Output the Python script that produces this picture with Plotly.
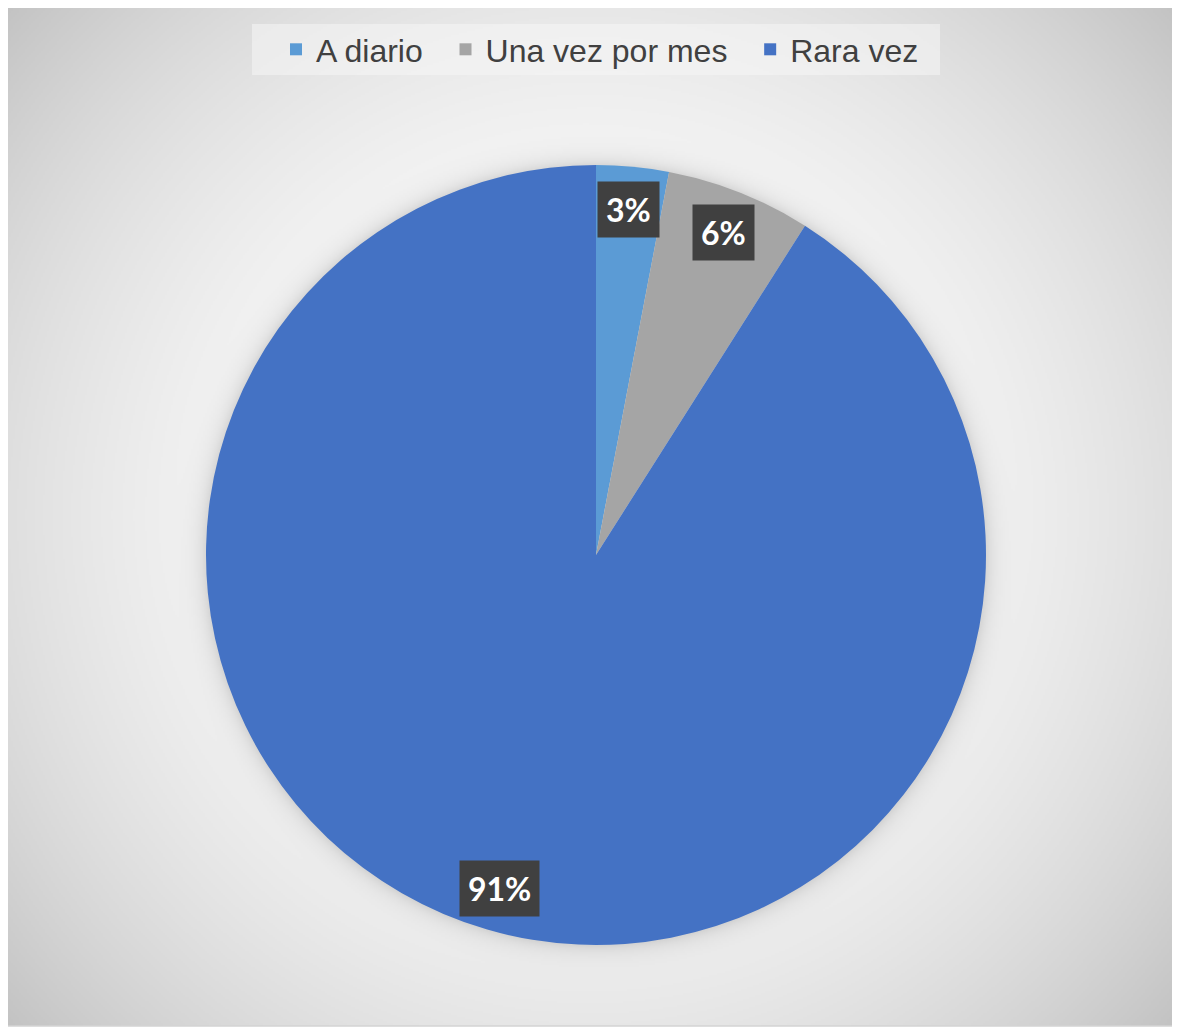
import base64
import struct
import zlib
import math

import numpy as np
import plotly.graph_objects as go

# ---------------- data ----------------
categories = ["A diario", "Una vez por mes", "Rara vez"]
values = [3, 6, 91]
colors = ["#5B9BD5", "#A5A5A5", "#4472C4"]

# ---------------- layout constants (viewport pixels) ----------------
OFF = 8                      # page body margin
W, H = 1180 - OFF, 1029 - OFF
CX, CY, R = 596, 555, 390    # pie centre / radius
BX0, BY0, BX1, BY1 = 6, 6, 1176, 1026   # chart border box
LGX0, LGY0, LGX1, LGY1 = 252, 24, 940, 75  # legend box
LABEL_R = 0.89


def fx(x):
    return (x - OFF) / W


def fy(y):
    return 1 - (y - OFF) / H


dom_x = [fx(CX - R), fx(CX + R)]
dom_y = [fy(CY + R), fy(CY - R)]


# ---------------- background: radial gradient + pie shadow ----------------
def png_gray(arr):
    h, w = arr.shape
    raw = b"".join(b"\x00" + arr[i].tobytes() for i in range(h))

    def chunk(t, d):
        c = struct.pack(">I", len(d)) + t + d
        return c + struct.pack(">I", zlib.crc32(t + d) & 0xFFFFFFFF)

    ihdr = struct.pack(">IIBBBBB", w, h, 8, 0, 0, 0, 0)
    return (b"\x89PNG\r\n\x1a\n" + chunk(b"IHDR", ihdr)
            + chunk(b"IDAT", zlib.compress(raw, 9)) + chunk(b"IEND", b""))


S = 2
iw, ih = (BX1 - BX0) // S, (BY1 - BY0) // S
yy, xx = np.mgrid[0:ih, 0:iw].astype(float)
px = BX0 + (xx + 0.5) * S
py = BY0 + (yy + 0.5) * S
gcx, gcy = 590.0, 515.0
d = np.hypot(px - gcx, py - gcy)
val = 254.0 - 57.0 * (d / 763.0) ** 2.25
dp = np.hypot(px - CX, py - CY) - R
shadow = np.where(dp > 0, 28.0 * np.exp(-dp / 9.0), 28.0)
val = val - shadow
img = np.clip(val, 0, 255).astype(np.uint8)
bg_src = "data:image/png;base64," + base64.b64encode(png_gray(img)).decode()

# ---------------- figure ----------------
legend_names = [c + ("\u00a0\u00a0" if i < len(categories) - 1 else "")
                for i, c in enumerate(categories)]

fig = go.Figure()
fig.add_trace(go.Pie(
    labels=legend_names,
    values=values,
    marker=dict(colors=colors, line=dict(width=0)),
    sort=False,
    direction="clockwise",
    rotation=0,
    textinfo="none",
    hoverinfo="label+percent",
    domain=dict(x=dom_x, y=dom_y),
))

# data labels as boxed annotations, placed from the data
total = float(sum(values))
cum = 0.0
annotations = []
for v in values:
    frac = v / total
    theta = 2 * math.pi * (cum + frac / 2)
    cum += frac
    lx = CX + R * LABEL_R * math.sin(theta)
    ly = CY - R * LABEL_R * math.cos(theta)
    txt = f"{round(frac * 100):.0f}%"
    annotations.append(dict(
        text=txt, x=fx(lx), y=fy(ly), xref="paper", yref="paper",
        showarrow=False, borderpad=8, xanchor="center", yanchor="middle",
        bgcolor="#404040",
        font=dict(family="Lato", size=32, color="white", weight="bold"),
    ))

fig.update_layout(
    width=W, height=H,
    margin=dict(l=0, r=0, t=0, b=0),
    paper_bgcolor="white",
    plot_bgcolor="white",
    images=[dict(source=bg_src, xref="paper", yref="paper",
                 x=fx(BX0), y=fy(BY0), sizex=(BX1 - BX0) / W, sizey=(BY1 - BY0) / H,
                 xanchor="left", yanchor="top", sizing="stretch", layer="below")],
    shapes=[
        dict(type="rect", xref="paper", yref="paper",
             x0=fx(BX0), x1=fx(BX1), y0=fy(BY1), y1=fy(BY0),
             line=dict(color="#d4d4d4", width=1.5), fillcolor="rgba(0,0,0,0)",
             layer="below"),
        dict(type="rect", xref="paper", yref="paper",
             x0=fx(LGX0), x1=fx(LGX1), y0=fy(LGY1), y1=fy(LGY0),
             line=dict(width=0), fillcolor="rgba(245,245,245,0.55)", layer="below"),
    ],
    annotations=annotations,
    showlegend=True,
    legend=dict(
        orientation="h",
        x=fx((LGX0 + LGX1) / 2 + 4), xanchor="center",
        y=fy((LGY0 + LGY1) / 2), yanchor="middle",
        bgcolor="rgba(0,0,0,0)",
        font=dict(family="Liberation Sans", size=32, color="#404040"),
        traceorder="normal",
    ),
)

fig.write_html("out.html")
